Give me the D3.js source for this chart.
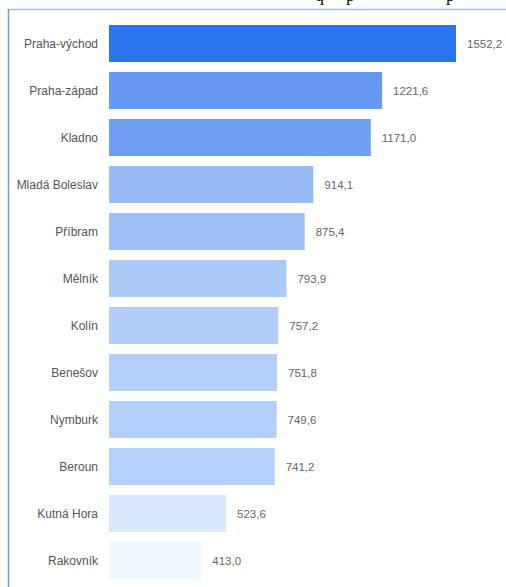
<!DOCTYPE html>
<html><head><meta charset="utf-8">
<script src="https://cdn.jsdelivr.net/npm/d3@7/dist/d3.min.js"></script>
<style>html,body{margin:0;padding:0;background:#fff;}svg{display:block;}</style>
</head><body>
<svg id="chart" width="506" height="587"></svg>
<script>
const categories = ["Praha-východ","Praha-západ","Kladno","Mladá Boleslav","Příbram","Mělník","Kolín","Benešov","Nymburk","Beroun","Kutná Hora","Rakovník"];
const values = [1552.2,1221.6,1171.0,914.1,875.4,793.9,757.2,751.8,749.6,741.2,523.6,413.0];

const svg = d3.select("#chart");
const W = 506, H = 587;
const x = d3.scaleLinear().domain([0, 1552.2]).range([109, 456]);
const y = d3.scaleBand().domain(categories).range([20, 20 + 47*12]).paddingInner(0.213).paddingOuter(0.1065);
const color = d3.scaleLinear()
  .domain([413, 523.6, 741, 800, 914, 1221.6, 1552.2])
  .range(["#eef6ff", "#dbe9fd", "#b5d0fa", "#abc9f8", "#97bcf6", "#6599f2", "#2b74f0"]);
const loc = d3.formatLocale({decimal: ",", thousands: "", grouping: [3], currency: ["", ""]});
const fmt = loc.format(".1f");

// partial cut-off title at top
svg.append("text").attr("y", 1).attr("font-family", "Liberation Serif, serif").attr("font-size", 18).attr("fill", "#111")
  .selectAll("tspan").data([["q",315],["p",346],["p",446]]).join("tspan")
  .attr("x", d => d[1]).text(d => d[0]);

// frame
svg.append("line").attr("x1", 8).attr("x2", W).attr("y1", 9.5).attr("y2", 9.5).attr("stroke", "#a4bbe4").attr("stroke-width", 1.5);
svg.append("line").attr("x1", 8.5).attr("x2", 8.5).attr("y1", 9).attr("y2", H).attr("stroke", "#6f9be3").attr("stroke-width", 1.5);

const g = svg.append("g");
const rows = g.selectAll("g.row").data(categories.map((c, i) => ({c, v: values[i]}))).join("g");
rows.append("rect")
  .attr("x", x(0)).attr("y", d => y(d.c))
  .attr("width", d => x(d.v) - x(0)).attr("height", y.bandwidth())
  .attr("fill", d => color(d.v));
rows.append("text")
  .attr("x", 98).attr("y", d => y(d.c) + y.bandwidth()/2).attr("dy", "0.35em")
  .attr("text-anchor", "end").attr("font-family", "Liberation Sans, Arial, sans-serif").attr("font-size", 12).attr("fill", "#555")
  .text(d => d.c);
rows.append("text")
  .attr("x", d => x(d.v) + 11).attr("y", d => y(d.c) + y.bandwidth()/2).attr("dy", "0.35em")
  .attr("font-family", "Liberation Sans, Arial, sans-serif").attr("font-size", 11.5).attr("fill", "#666")
  .text(d => fmt(d.v));
</script>
</body></html>
